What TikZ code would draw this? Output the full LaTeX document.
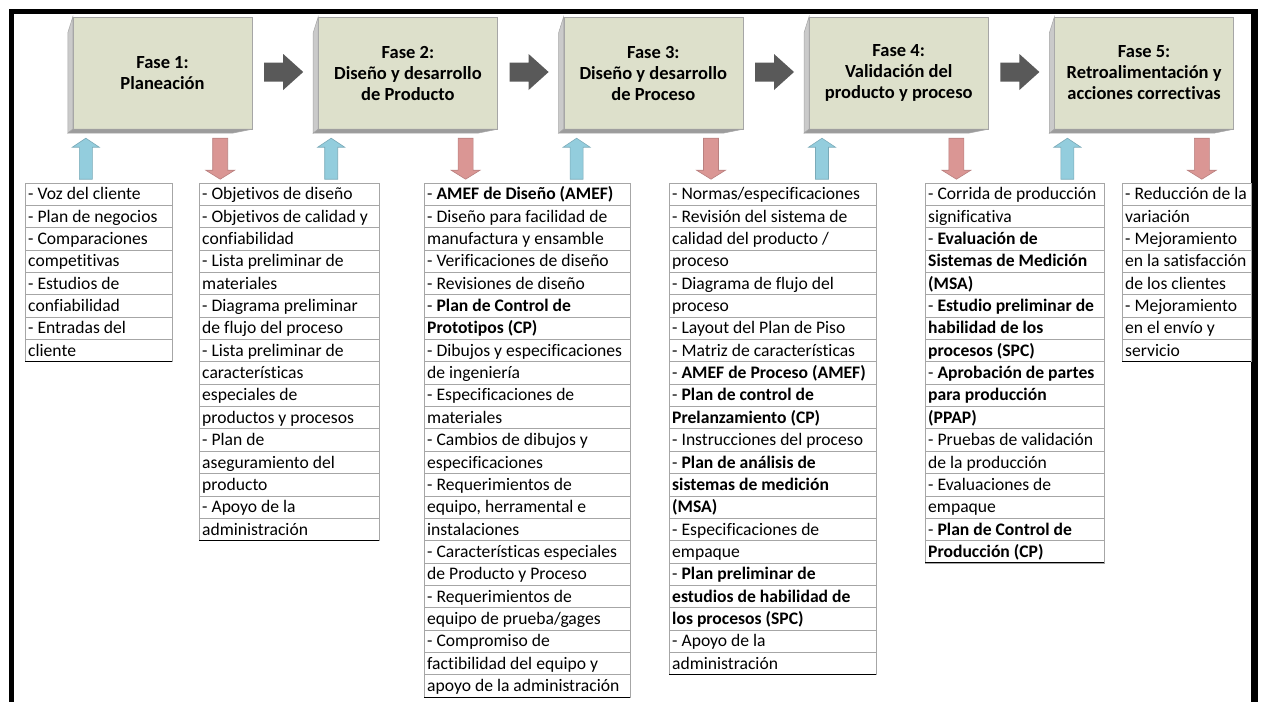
\documentclass[tikz,border=0pt]{standalone}
\usepackage{fontspec}
\setmainfont[Ligatures=NoCommon]{Carlito}
\usetikzlibrary{calc}
\definecolor{boxfront}{HTML}{DDE0CB}
\definecolor{boxedge}{HTML}{A6A6A6}
\definecolor{sideleft}{HTML}{CACACA}
\definecolor{sidebottom}{HTML}{9C9C9C}
\definecolor{fwdgray}{HTML}{595959}
\definecolor{upblue}{HTML}{93CDDD}
\definecolor{upblueedge}{HTML}{7AAAB8}
\definecolor{downred}{HTML}{DA9694}
\definecolor{downrededge}{HTML}{B98180}
\definecolor{rowline}{HTML}{A6A6A6}
\tikzset{
  phase/.style={draw=boxedge, fill=boxfront, minimum width=179pt, minimum height=112pt,
    inner sep=0pt, align=center, font=\bfseries\fontsize{18.5}{21}\selectfont},
  celltext/.style={inner sep=0pt, anchor=base west, font=\fontsize{17.6}{20}\selectfont},
  cellbox/.style={draw=rowline, line width=0.8pt},
  fwd/.pic={\fill[fwdgray] (0,-9.5) -- (19,-9.5) -- (19,-18) -- (39,0) -- (19,18) -- (19,9.5) -- (0,9.5) -- cycle;},
  uparr/.pic={\filldraw[fill=upblue, draw=upblueedge, line width=0.6pt] (0,0) -- (13.5,9) -- (6.5,9) -- (6.5,41) -- (-6.5,41) -- (-6.5,9) -- (-13.5,9) -- cycle;},
  downarr/.pic={\filldraw[fill=downred, draw=downrededge, line width=0.6pt] (-7.5,0) -- (7.5,0) -- (7.5,32) -- (14.5,32) -- (0,41) -- (-14.5,32) -- (-7.5,32) -- cycle;}
}
\newcommand\tablecol[4]{%
  \foreach \t [count=\i] in {#4} {
    \draw[cellbox] (#2,{183+(\i-1)*22.35}) rectangle (#3,{183+\i*22.35});
    \node[celltext] (#1-\i) at ({#2+3},{183+(\i-1)*22.35+16.8}) {\t};
    \xdef\lastrow{\i}
  }
  \draw[black, line width=1pt] (#2,{183+\lastrow*22.35}) -- (#3,{183+\lastrow*22.35});
}
\newcommand\phasebox[3]{%
  \node[phase] (#1) at (#2,73) {#3};
  \filldraw[fill=sideleft, draw=boxedge, line width=0.5pt] (#1.north west) -- ($(#1.north west)+(-5,16)$) -- ($(#1.south west)+(-5,4)$) -- (#1.south west) -- cycle;
  \filldraw[fill=sidebottom, draw=boxedge, line width=0.5pt] (#1.south west) -- ($(#1.south west)+(-5,4)$) -- ($(#1.south east)+(-20,4)$) -- (#1.south east) -- cycle;
  \pic at ($(#1.south west)+(13,9)$) {uparr};
  \pic at ($(#1.south east)+(-32,9)$) {downarr};
}
\begin{document}
\begin{tikzpicture}[x=1pt,y=-1pt]
\useasboundingbox (0,0) rectangle (1265,702);
\fill[white] (0,0) rectangle (1265,702);
% frame
\fill[black] (8.5,9) rectangle (1258,13.5);
\fill[black] (8.5,9) rectangle (14,702);
\fill[black] (1251,9) rectangle (1258,702);
% phases
\phasebox{p1}{162.5}{Fase 1:\\Planeación}
\phasebox{p2}{407.9}{Fase 2:\\Diseño y desarrollo\\de Producto}
\phasebox{p3}{653.3}{Fase 3:\\Diseño y desarrollo\\de Proceso}
\phasebox{p4}{898.7}{Fase 4:\\Validación del\\producto y proceso}
\phasebox{p5}{1144.1}{Fase 5:\\Retroalimentación y\\acciones correctivas}
\pic at ($(p1.east)+(12,-1)$) {fwd};
\pic at ($(p2.east)+(12,-1)$) {fwd};
\pic at ($(p3.east)+(12,-1)$) {fwd};
\pic at ($(p4.east)+(12,-1)$) {fwd};
% tables
\tablecol{c1}{25}{172}{{- Voz del cliente},{- Plan de negocios},{- Comparaciones},{competitivas},{- Estudios de},{confiabilidad},{- Entradas del},{cliente}}
\tablecol{c2}{199}{379}{{- Objetivos de diseño},{- Objetivos de calidad y},{confiabilidad},{- Lista preliminar de},{materiales},{- Diagrama preliminar},{de flujo del proceso},{- Lista preliminar de},{características},{especiales de},{productos y procesos},{- Plan de},{aseguramiento del},{producto},{- Apoyo de la},{administración}}
\tablecol{c3}{424}{630}{{- \textbf{AMEF de Diseño (AMEF)}},{- Diseño para facilidad de},{manufactura y ensamble},{- Verificaciones de diseño},{- Revisiones de diseño},{- \textbf{Plan de Control de}},{\textbf{Prototipos (CP)}},{- Dibujos y especificaciones},{de ingeniería},{- Especificaciones de},{materiales},{- Cambios de dibujos y},{especificaciones},{- Requerimientos de},{equipo, herramental e},{instalaciones},{- Características especiales},{de Producto y Proceso},{- Requerimientos de},{equipo de prueba/gages},{- Compromiso de},{factibilidad del equipo y},{apoyo de la administración}}
\tablecol{c4}{669}{876}{{- Normas/especificaciones},{- Revisión del sistema de},{calidad del producto /},{proceso},{- Diagrama de flujo del},{proceso},{- Layout del Plan de Piso},{- Matriz de características},{- \textbf{AMEF de Proceso (AMEF)}},{- \textbf{Plan de control de}},{\textbf{Prelanzamiento (CP)}},{- Instrucciones del proceso},{- \textbf{Plan de análisis de}},{\textbf{sistemas de medición}},{\textbf{(MSA)}},{- Especificaciones de},{empaque},{- \textbf{Plan preliminar de}},{\textbf{estudios de habilidad de}},{\textbf{los procesos (SPC)}},{- Apoyo de la},{administración}}
\tablecol{c5}{925}{1104}{{- Corrida de producción},{significativa},{- \textbf{Evaluación de}},{\textbf{Sistemas de Medición}},{\textbf{(MSA)}},{- \textbf{Estudio preliminar de}},{\textbf{habilidad de los}},{\textbf{procesos (SPC)}},{- \textbf{Aprobación de partes}},{\textbf{para producción}},{\textbf{(PPAP)}},{- Pruebas de validación},{de la producción},{- Evaluaciones de},{empaque},{- \textbf{Plan de Control de}},{\textbf{Producción (CP)}}}
\tablecol{c6}{1122}{1251}{{- Reducción de la},{variación},{- Mejoramiento},{en la satisfacción},{de los clientes},{- Mejoramiento},{en el envío y},{servicio}}
\end{tikzpicture}
\end{document}
